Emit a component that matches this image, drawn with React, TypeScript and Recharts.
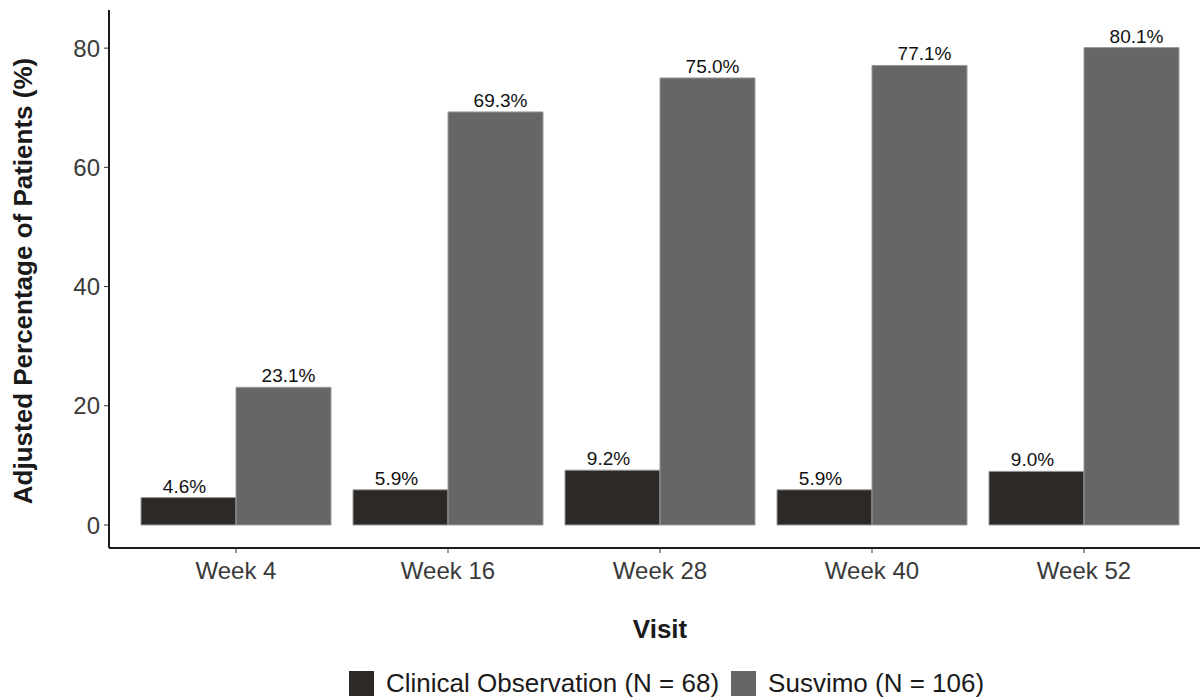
import React from 'react';
import { BarChart, Bar, XAxis, YAxis, Legend, LabelList, Label } from 'recharts';

const visits = ['Week 4', 'Week 16', 'Week 28', 'Week 40', 'Week 52'];
const clinicalObservation = [4.6, 5.9, 9.2, 5.9, 9.0];
const susvimo = [23.1, 69.3, 75.0, 77.1, 80.1];
const yTicks = [0, 20, 40, 60, 80];

const series = [
  { key: 'clinical', name: 'Clinical Observation (N = 68)', color: '#2d2926', labelDx: -4 },
  { key: 'susvimo', name: 'Susvimo (N = 106)', color: '#666666', labelDx: 5 },
];

const data = visits.map((visit, i) => ({
  visit,
  clinical: clinicalObservation[i],
  susvimo: susvimo[i],
}));

const FONT = '"Liberation Sans", Arial, Helvetica, sans-serif';

const pct = (v: any) => `${Number(v).toFixed(1)}%`;

// legend drawn as a row of squares + labels
const LegendRow = () => (
  <div style={{ display: 'flex', alignItems: 'center', height: 25, fontFamily: FONT, fontSize: 26, color: '#1a1a1a' }}>
    {series.map((s, i) => (
      <div key={s.key} style={{ display: 'flex', alignItems: 'center', marginRight: i === 0 ? 12 : 0 }}>
        <div style={{ width: 25, height: 25, background: s.color, marginRight: 12 }} />
        <span style={{ lineHeight: '25px' }}>{s.name}</span>
      </div>
    ))}
  </div>
);

export default function App() {
  return (
    <div style={{ position: 'absolute', left: 0, top: 0, width: 1200, height: 700, overflow: 'hidden', background: '#fff' }}>
      <BarChart
        width={1220}
        height={700}
        data={data}
        margin={{ top: 10, right: 9, bottom: 0, left: 0 }}
        barCategoryGap={11}
        barGap={0}
        style={{ fontFamily: FONT }}
      >
        <XAxis
          dataKey="visit"
          height={127}
          padding={{ left: 21, right: 21 }}
          tickSize={5}
          tickMargin={9}
          axisLine={{ stroke: '#1a1a1a', strokeWidth: 2 }}
          tickLine={{ stroke: '#333' }}
          tick={{ fontSize: 24, fill: '#3a3a3a', fontFamily: FONT }}
        >
          <Label
            content={() => (
              <text x={660} y={638} textAnchor="middle" fontSize={26} fontWeight="bold" fill="#1a1a1a" fontFamily={FONT}>
                Visit
              </text>
            )}
          />
        </XAxis>
        <YAxis
          width={109}
          domain={[-3.86, 86.4]}
          allowDataOverflow
          ticks={yTicks}
          tickSize={5}
          tickMargin={4}
          axisLine={{ stroke: '#1a1a1a', strokeWidth: 2 }}
          tickLine={{ stroke: '#333' }}
          tick={{ fontSize: 24, fill: '#3a3a3a', fontFamily: FONT }}
        >
          <Label
            content={() => (
              <text
                x={0}
                y={0}
                transform="translate(32,281) rotate(-90)"
                textAnchor="middle"
                fontSize={26}
                fontWeight="bold"
                fill="#1a1a1a"
                fontFamily={FONT}
              >
                Adjusted Percentage of Patients (%)
              </text>
            )}
          />
        </YAxis>
        <Legend
          verticalAlign="bottom"
          content={() => <LegendRow />}
          wrapperStyle={{ left: 349, top: 671, width: 760, height: 25 }}
        />
        {series.map((s) => (
          <Bar
            key={s.key}
            dataKey={s.key}
            name={s.name}
            fill={s.color}
            stroke="#9a9a9a"
            strokeWidth={1}
            isAnimationActive={false}
          >
            <LabelList
              dataKey={s.key}
              position="top"
              offset={5}
              dx={s.labelDx}
              formatter={pct}
              fontSize={19}
              fill="#111"
              fontFamily={FONT}
            />
          </Bar>
        ))}
      </BarChart>
    </div>
  );
}
